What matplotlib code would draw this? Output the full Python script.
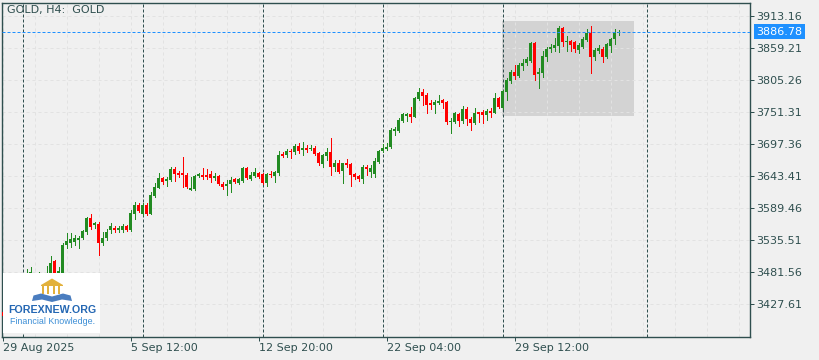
import numpy as np
import matplotlib.pyplot as plt
import matplotlib.transforms as mtransforms
from matplotlib.patches import Rectangle, Polygon

# H4 candles, GOLD, 29 Aug 2025 04:00 -> 3 Oct 2025 20:00
opens = [3414, 3408, 3420, 3436, 3447, 3450, 3470, 3478, 3479, 3472,
         3476, 3474, 3478, 3500, 3478, 3480, 3527, 3530, 3532, 3535,
         3539, 3549, 3573, 3561, 3562, 3530, 3539, 3552, 3556, 3552,
         3552, 3559, 3552, 3579, 3595, 3579, 3595, 3579, 3610, 3623,
         3640, 3635, 3637, 3655, 3648, 3648, 3645, 3620, 3621, 3643,
         3645, 3645, 3646, 3640, 3643, 3630, 3626, 3630, 3638, 3632,
         3635, 3657, 3638, 3643, 3648, 3647, 3632, 3647, 3643, 3648,
         3681, 3679, 3686, 3684, 3694, 3687, 3691, 3689, 3691, 3682,
         3664, 3677, 3684, 3659, 3665, 3652, 3665, 3664, 3647, 3643,
         3638, 3659, 3650, 3647, 3667, 3686, 3689, 3692, 3719, 3719,
         3736, 3745, 3748, 3743, 3773, 3785, 3780, 3766, 3763, 3766,
         3772, 3768, 3734, 3734, 3748, 3736, 3756, 3740, 3733, 3751,
         3751, 3746, 3753, 3750, 3775, 3758, 3785, 3804, 3819, 3812,
         3829, 3834, 3837, 3868, 3815, 3817, 3844, 3858, 3859, 3863,
         3893, 3869, 3871, 3869, 3856, 3861, 3873, 3885, 3844, 3854,
         3858, 3844, 3863, 3874, 3885]
highs = [3418, 3425, 3440, 3452, 3453, 3475, 3487, 3490, 3480, 3481,
         3478, 3492, 3508, 3502, 3490, 3530, 3547, 3547, 3544, 3542,
         3552, 3574, 3579, 3566, 3566, 3549, 3554, 3564, 3559, 3559,
         3562, 3561, 3586, 3600, 3598, 3598, 3598, 3616, 3632, 3648,
         3642, 3642, 3659, 3659, 3652, 3675, 3648, 3642, 3645, 3648,
         3657, 3655, 3652, 3648, 3645, 3633, 3637, 3642, 3640, 3640,
         3658, 3658, 3650, 3657, 3650, 3648, 3648, 3652, 3651, 3686,
         3684, 3689, 3689, 3697, 3699, 3701, 3696, 3696, 3694, 3684,
         3681, 3691, 3707, 3670, 3670, 3666, 3672, 3665, 3648, 3645,
         3662, 3662, 3662, 3674, 3687, 3697, 3699, 3724, 3726, 3741,
         3750, 3750, 3760, 3777, 3792, 3790, 3783, 3772, 3772, 3780,
         3773, 3770, 3741, 3751, 3750, 3761, 3760, 3743, 3758, 3752,
         3755, 3756, 3758, 3783, 3777, 3788, 3809, 3822, 3831, 3834,
         3841, 3844, 3869, 3869, 3826, 3854, 3861, 3866, 3876, 3896,
         3895, 3879, 3872, 3871, 3868, 3878, 3891, 3896, 3859, 3864,
         3861, 3868, 3876, 3891, 3890]
lows = [3405, 3404, 3416, 3430, 3440, 3446, 3466, 3474, 3470, 3468,
        3470, 3470, 3474, 3476, 3472, 3476, 3522, 3524, 3527, 3522,
        3537, 3546, 3554, 3556, 3510, 3527, 3535, 3547, 3549, 3549,
        3549, 3551, 3551, 3571, 3583, 3578, 3578, 3579, 3608, 3623,
        3630, 3627, 3635, 3635, 3642, 3625, 3623, 3620, 3620, 3642,
        3638, 3638, 3634, 3637, 3628, 3621, 3611, 3616, 3632, 3630,
        3633, 3638, 3637, 3642, 3640, 3630, 3627, 3642, 3633, 3645,
        3675, 3675, 3674, 3681, 3682, 3679, 3684, 3687, 3679, 3662,
        3659, 3670, 3645, 3652, 3648, 3632, 3659, 3627, 3638, 3635,
        3632, 3645, 3642, 3642, 3666, 3684, 3687, 3691, 3713, 3718,
        3734, 3736, 3734, 3742, 3771, 3763, 3750, 3756, 3750, 3765,
        3758, 3731, 3716, 3733, 3728, 3733, 3729, 3721, 3731, 3734,
        3733, 3738, 3743, 3749, 3758, 3757, 3772, 3800, 3807, 3810,
        3822, 3831, 3836, 3805, 3792, 3810, 3837, 3852, 3854, 3852,
        3863, 3854, 3854, 3852, 3851, 3859, 3871, 3817, 3839, 3851,
        3836, 3842, 3852, 3866, 3881]
closes = [3408, 3420, 3436, 3447, 3448, 3470, 3478, 3482, 3474, 3477,
          3474, 3480, 3497, 3480, 3484, 3527, 3534, 3537, 3539, 3539,
          3551, 3573, 3557, 3564, 3530, 3539, 3549, 3559, 3552, 3556,
          3559, 3552, 3581, 3595, 3584, 3595, 3579, 3611, 3625, 3640,
          3633, 3638, 3655, 3647, 3645, 3645, 3625, 3623, 3643, 3647,
          3642, 3642, 3640, 3643, 3630, 3625, 3630, 3637, 3633, 3638,
          3657, 3640, 3645, 3650, 3642, 3632, 3647, 3645, 3650, 3679,
          3677, 3686, 3684, 3694, 3686, 3691, 3687, 3691, 3681, 3665,
          3679, 3684, 3659, 3665, 3650, 3665, 3662, 3645, 3642, 3638,
          3659, 3655, 3657, 3669, 3686, 3691, 3692, 3721, 3723, 3738,
          3748, 3748, 3743, 3775, 3785, 3778, 3763, 3763, 3768, 3770,
          3766, 3734, 3736, 3750, 3736, 3756, 3740, 3733, 3750, 3748,
          3746, 3753, 3750, 3775, 3760, 3787, 3805, 3819, 3812, 3831,
          3834, 3841, 3868, 3814, 3819, 3846, 3858, 3861, 3864, 3893,
          3869, 3871, 3864, 3857, 3864, 3874, 3885, 3844, 3856, 3859,
          3844, 3866, 3874, 3885, 3886.78]

last_price = 3886.78
price_ticks = [3427.61, 3481.56, 3535.51, 3589.46, 3643.41,
               3697.36, 3751.31, 3805.26, 3859.21, 3913.16]
date_ticks = [0, 32, 64, 96, 128]
date_labels = ['29 Aug 2025', '5 Sep 12:00', '12 Sep 20:00', '22 Sep 04:00', '29 Sep 12:00']
week_starts = [5, 35, 65, 95, 125, 161]
zone_bars = [124.9, 157.8]
zone_prices = [3745.0, 3904.7]

BG = '#f0f0f0'
INK = '#2f4f4f'
UP = '#228b22'
DN = '#ff0000'
PX = 0.72  # one pixel in points

fig = plt.figure(figsize=(8.2, 3.6), dpi=100, facecolor=BG)
ax = fig.add_axes([2.5 / 820, 23 / 360, 747.5 / 820, 334.5 / 360])
ax.set_facecolor(BG)
ax.set_xlim(-0.05, 186.8)
ax.set_ylim(3371.9, 3935.9)

# shaded zone
ax.add_patch(Rectangle((zone_bars[0], zone_prices[0]), zone_bars[1] - zone_bars[0],
                       zone_prices[1] - zone_prices[0], fc='#d3d3d3', ec='none', zorder=1))

# light grid
for b in range(0, 190, 8):
    ax.axvline(b, color='#e2e2e2', lw=PX, ls=(0, (3, 3)), zorder=1.5)
for p in price_ticks:
    ax.axhline(p, color='#e2e2e2', lw=PX, ls=(0, (3, 3)), zorder=1.5)

# week separators
for b in week_starts:
    ax.axvline(b, color=INK, lw=PX, ls=(0, (3, 2)), zorder=3)

# candles
o = np.array(opens, float)
h = np.array(highs, float)
l = np.array(lows, float)
c = np.array(closes, float)
idx = np.arange(len(o))
col = np.where(c >= o, UP, DN)
ax.vlines(idx, l, h, colors=col, lw=PX, zorder=4, antialiased=False)
ax.bar(idx, np.maximum(np.abs(c - o), 1.7), 0.8, bottom=np.minimum(o, c),
       color=col, lw=0, zorder=5, antialiased=False)

# last price line + label
ax.axhline(last_price, color='#1e90ff', lw=PX, ls=(0, (3, 2)), zorder=6)
tr = mtransforms.blended_transform_factory(ax.transAxes, ax.transData)
ax.text(1.0 + 6.5 / 747.5, last_price, f'{last_price:.2f}', transform=tr,
        ha='left', va='center', color='white', fontsize=8, clip_on=False, zorder=10,
        bbox=dict(boxstyle='square,pad=0.25', fc='#1e90ff', ec='none'))

# axes styling
for s in ax.spines.values():
    s.set_color(INK)
    s.set_linewidth(1.0)
ax.yaxis.tick_right()
ax.set_yticks(price_ticks, [f'{p:.2f}' for p in price_ticks])
ax.set_xticks(date_ticks, date_labels)
for lab in ax.get_xticklabels():
    lab.set_horizontalalignment('left')
ax.tick_params(axis='y', length=3, width=PX, color=INK, labelcolor=INK, labelsize=8, pad=1.5)
ax.tick_params(axis='x', length=3, width=PX, color=INK, labelcolor=INK, labelsize=8, pad=1.5)

# overlay in pixel coords: title and watermark
ov = fig.add_axes([0, 0, 1, 1], zorder=20)
ov.set_xlim(0, 820)
ov.set_ylim(360, 0)
ov.axis('off')
ov.text(7, 10, 'GOLD, H4:  GOLD', fontsize=8, color=INK, ha='left', va='center')

ov.add_patch(Rectangle((3.3, 272.7), 96.7, 60, fc='white', ec='none'))
gold = '#e2b13c'
ov.add_patch(Polygon([(41, 285), (52, 278.5), (63, 285)], closed=True, fc=gold, ec='none'))
ov.add_patch(Rectangle((41, 284.5), 22, 1.5, fc=gold, ec='none'))
for px in [43.3, 48.5, 54, 59.3]:
    ov.add_patch(Rectangle((px - 1, 286), 2, 7.5, fc=gold, ec='none'))
blue = '#4a7dbf'
left_page = [(32, 301), (33.5, 295.5), (41, 293.5), (52, 296.5), (52, 302), (42, 299.5)]
ov.add_patch(Polygon(left_page, closed=True, fc=blue, ec='none'))
ov.add_patch(Polygon([(104 - x, y) for x, y in left_page], closed=True, fc=blue, ec='none'))
ov.text(52.5, 310, 'FOREXNEW.ORG', family='Liberation Sans', weight='bold',
        fontsize=7.7, color='#2467b3', ha='center', va='center')
ov.text(52.5, 322, 'Financial Knowledge.', family='Liberation Sans',
        fontsize=6.4, color='#3d8fd6', ha='center', va='center')

fig.savefig('out.png', dpi=100, facecolor=BG)
